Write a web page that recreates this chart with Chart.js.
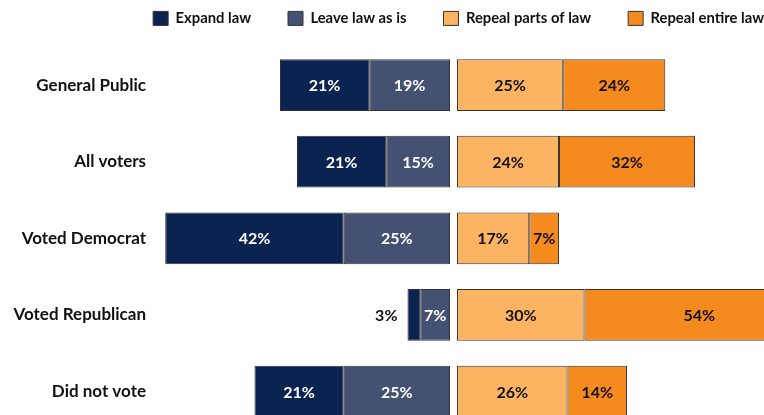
<!DOCTYPE html>
<html>
<head>
<meta charset="utf-8">
<script src="https://cdn.jsdelivr.net/npm/chart.js@4"></script>
<style>
    html, body { margin: 0; padding: 0; background: #ffffff; overflow: hidden; }
    #wrap { position: relative; width: 764px; height: 415px; overflow: hidden; }
    #lawChart { position: absolute; left: 0; top: -26px; }
</style>
</head>
<body>
<div id="wrap"><canvas id="lawChart" width="801" height="470"></canvas></div>
<script>
// Survey groups (rows)
const groups = ['General Public', 'All voters', 'Voted Democrat', 'Voted Republican', 'Did not vote'];

// Left side (support / keep)
const expandLaw = [21, 21, 42, 3, 21];
const leaveLaw = [19, 15, 25, 7, 25];

// Right side (repeal)
const repealParts = [25, 24, 17, 30, 26];
const repealEntire = [24, 32, 7, 54, 14];

const seriesNames = ['Expand law', 'Leave law as is', 'Repeal parts of law', 'Repeal entire law'];
const seriesColors = ['#0b2350', '#445173', '#fcb462', '#f58a1f'];
const labelColors = ['#ffffff', '#ffffff', '#111111', '#111111'];

// half of the white gap between the two sides, in % units
const GAP = 0.82;

// Build floating [start, end] bars out of the arrays
const leaveBars = leaveLaw.map(v => [-GAP - v, -GAP]);
const expandBars = expandLaw.map((v, i) => [-GAP - leaveLaw[i] - v, -GAP - leaveLaw[i]]);
const partsBars = repealParts.map(v => [GAP, GAP + v]);
const entireBars = repealEntire.map((v, i) => [GAP + repealParts[i], GAP + repealParts[i] + v]);

const rawValues = [expandLaw, leaveLaw, repealParts, repealEntire];

/**
 * Draws the percentage labels on each bar
 */
const barLabels = {
    id: 'barLabels',
    afterDatasetsDraw(chart) {
        const ctx = chart.ctx;
        ctx.save();
        ctx.font = 'bold 16px Lato, "Open Sans", sans-serif';
        ctx.textBaseline = 'middle';
        chart.data.datasets.forEach((ds, di) => {
            const meta = chart.getDatasetMeta(di);
            meta.data.forEach((bar, i) => {
                const v = rawValues[di][i];
                const txt = v + '%';
                const left = Math.min(bar.x, bar.base);
                const right = Math.max(bar.x, bar.base);
                if (right - left < 26) {
                    // too small: put it outside on the left
                    ctx.fillStyle = '#111111';
                    ctx.textAlign = 'right';
                    ctx.fillText(txt, left - 10, bar.y + 1);
                } else {
                    ctx.fillStyle = labelColors[di];
                    ctx.textAlign = 'center';
                    ctx.fillText(txt, (left + right) / 2, bar.y + 1);
                }
            });
        });
        ctx.restore();
    }
};

const makeSet = (i, data) => ({
    label: seriesNames[i],
    data: data,
    backgroundColor: seriesColors[i],
    borderColor: '#333333',
    borderWidth: 1,
    borderSkipped: false,
    barPercentage: 1,
    categoryPercentage: 0.675
});

new Chart(document.getElementById('lawChart'), {
    type: 'bar',
    data: {
        labels: groups,
        datasets: [
            makeSet(0, expandBars),
            makeSet(1, leaveBars),
            makeSet(2, partsBars),
            makeSet(3, entireBars)
        ]
    },
    options: {
        indexAxis: 'y',
        responsive: false,
        animation: false,
        layout: { padding: { top: 0, right: 0, bottom: 0, left: 0 } },
        scales: {
            x: {
                position: 'top',
                min: -71.4,
                max: 81.76,
                grid: { display: false, drawTicks: false },
                border: { display: false },
                ticks: { display: false },
                // empty band between legend and first row
                afterFit(scale) { scale.height = 11; }
            },
            y: {
                stacked: true,
                grid: { display: false, drawTicks: false },
                border: { display: false },
                ticks: {
                    color: '#111111',
                    padding: 4,
                    font: { family: 'Lato, "Open Sans", sans-serif', size: 17, weight: 'bold' }
                },
                afterFit(scale) { scale.width = 150; }
            }
        },
        plugins: {
            legend: {
                position: 'top',
                align: 'end',
                labels: {
                    color: '#111111',
                    boxWidth: 15,
                    boxHeight: 14,
                    padding: 37,
                    font: { family: 'Lato, "Open Sans", sans-serif', size: 14.8, weight: 'bold' }
                }
            },
            tooltip: { enabled: false }
        }
    },
    plugins: [barLabels]
});
</script>
</body>
</html>
